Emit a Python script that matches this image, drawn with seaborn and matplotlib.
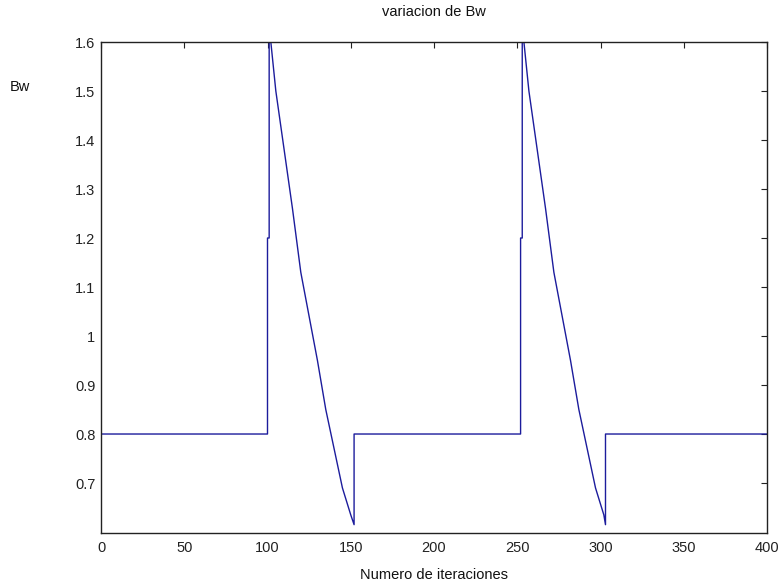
import numpy as np
import pandas as pd
import matplotlib
matplotlib.use("Agg")
import matplotlib.pyplot as plt
import seaborn as sns

# vertices of the Bw curve (iteration, value)
iteraciones = [0, 100, 100, 101, 101, 102, 105, 110, 115, 120, 125, 130, 135, 140, 145, 150, 152,
               152, 153, 252, 252, 253, 253, 254, 257, 262, 267, 272, 277, 282, 287, 292, 297, 302,
               303, 303, 304, 400]
bw = [0.8, 0.8, 1.2, 1.2, 1.6, 1.6, 1.5, 1.38, 1.26, 1.13, 1.04, 0.95, 0.85, 0.77, 0.69, 0.635, 0.615,
      0.8, 0.8, 0.8, 1.2, 1.2, 1.6, 1.6, 1.5, 1.38, 1.26, 1.13, 1.04, 0.95, 0.85, 0.77, 0.69, 0.635,
      0.615, 0.8, 0.8, 0.8]
x_ticks = [0, 50, 100, 150, 200, 250, 300, 350, 400]
y_ticks = [0.7, 0.8, 0.9, 1.0, 1.1, 1.2, 1.3, 1.4, 1.5, 1.6]
y_tick_labels = ["0.7", "0.8", "0.9", "1", "1.1", "1.2", "1.3", "1.4", "1.5", "1.6"]

df = pd.DataFrame({"it": iteraciones, "bw": bw})

sns.set_theme(style="white")
plt.rcParams["font.family"] = ["Liberation Sans", "DejaVu Sans"]

fig = plt.figure(figsize=(7.83, 5.82), dpi=100)
ax = fig.add_axes([101/783, 1-533/582, (767-101)/783, (533-42)/582])

sns.lineplot(data=df, x="it", y="bw", sort=False, estimator=None,
             color="#1c1c9c", linewidth=1.0, ax=ax)

ax.set_xlim(0, 400)
ax.set_ylim(0.598, 1.6)
ax.set_xticks(x_ticks)
ax.set_xticklabels([str(t) for t in x_ticks])
ax.set_yticks(y_ticks)
ax.set_yticklabels(y_tick_labels)
ax.tick_params(direction="in", length=4, width=0.8, top=True, right=True,
               labelsize=10.5, colors="#222222", pad=4)
ax.tick_params(axis="x", pad=6)
for s in ax.spines.values():
    s.set_color("#222222")
    s.set_linewidth(1.0)

ax.set_xlabel("Numero de iteraciones", fontsize=10.5, color="#111111", labelpad=9)
ax.set_ylabel("")
fig.text(20/783, 1-87/582, "Bw", fontsize=10.5, ha="center", va="center", color="#111111")
fig.text(434/783, 1-12/582, "variacion de Bw", fontsize=10.5, ha="center", va="center", color="#111111")

fig.patch.set_facecolor("white")
ax.set_facecolor("white")
fig.savefig("out.png", dpi=100, facecolor="white")
